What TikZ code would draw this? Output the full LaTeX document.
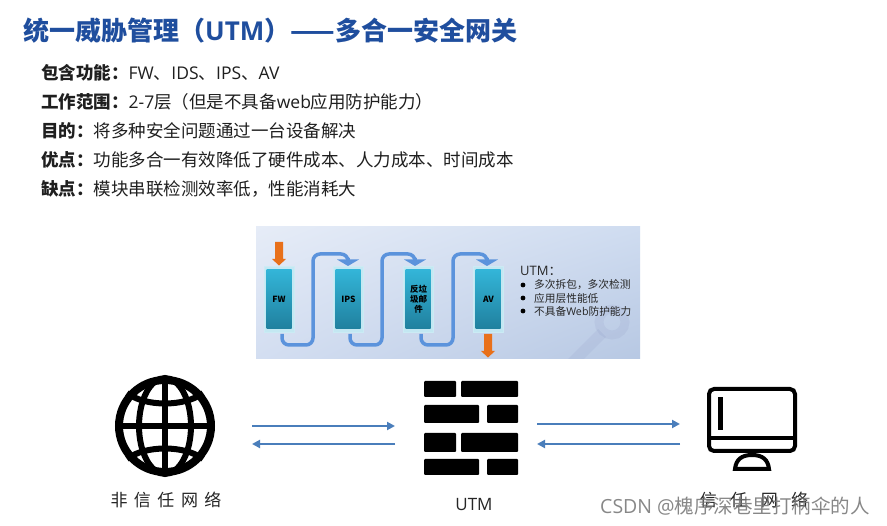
\documentclass[tikz,border=0pt]{standalone}
\usepackage{fontspec}
\setmainfont{Noto Sans CJK SC}
\newfontfamily\latf{Open Sans}
\newcommand{\lt}[1]{{\latf #1}}
\newcommand{\fwco}{\symbol{"FF1A}}
\newcommand{\fwlp}{\symbol{"FF08}}
\newcommand{\fwrp}{\symbol{"FF09}}
\newcommand{\fwcm}{\symbol{"FF0C}}
\usetikzlibrary{arrows.meta,calc,shadings}
\definecolor{titleblue}{HTML}{1F4E9E}
\definecolor{arrowblue}{HTML}{4A7EBB}
\definecolor{pipeblue}{HTML}{5B93DC}
\definecolor{arroworange}{HTML}{E8701A}
\definecolor{modtop}{HTML}{33B5D8}
\definecolor{modbot}{HTML}{20809E}
\tikzset{
  titletext/.style={anchor=west,inner sep=0pt,font=\bfseries\fontsize{26}{26}\selectfont,text=titleblue},
  bodytext/.style={anchor=west,inner sep=0pt,font=\fontsize{17.5}{18}\selectfont,text=black!88},
  modframe/.style={draw=white!75!modtop,line width=1pt,fill=white!70!modtop,opacity=.9},
  modcore/.style={top color=modtop,bottom color=modbot,draw=none},
  modlabel/.style={inner sep=0pt,align=center,font=\bfseries\fontsize{8.5}{10}\selectfont,text=black},
  pipe/.style={draw=pipeblue,line width=3.5pt,rounded corners=7pt},
  pipetip/.style={fill=pipeblue,draw=none},
  orangeshaft/.style={fill=arroworange,draw=none},
  flow/.style={draw=arrowblue,line width=2pt,-{Triangle[length=8pt,width=8pt]}},
  brick/.style={fill=black,draw=none,rounded corners=1pt},
  icon/.style={draw=black,fill=none},
  caption/.style={inner sep=0pt,font=\fontsize{17}{18}\selectfont,text=black!85},
  utmtext/.style={anchor=west,inner sep=0pt,font=\fontsize{10.7}{12}\selectfont,text=black!85},
  wm/.style={inner sep=0pt,anchor=west,font=\fontsize{19.5}{20}\selectfont,text=black!55,opacity=.85},
  keymark/.style={draw=black!60!blue,opacity=.04},
}
\begin{document}
\begin{tikzpicture}[x=1pt,y=-1pt]
\useasboundingbox (0,0) rectangle (887,526);
\fill[white] (0,0) rectangle (887,526);
% title and body
\node[titletext] (title) at (23,31) {统一威胁管理\fwlp\lt{UTM}\fwrp——多合一安全网关};
\node[bodytext] (l1) at (41,73) {\textbf{包含功能\fwco}\lt{FW}、\lt{IDS}、\lt{IPS}、\lt{AV}};
\node[bodytext] (l2) at (41,102) {\textbf{工作范围\fwco}\lt{2-7}层\fwlp 但是不具备\lt{web}应用防护能力\fwrp};
\node[bodytext] (l3) at (41,131) {\textbf{目的\fwco}将多种安全问题通过一台设备解决};
\node[bodytext] (l4) at (41,160) {\textbf{优点\fwco}功能多合一有效降低了硬件成本、人力成本、时间成本};
\node[bodytext] (l5) at (41,189) {\textbf{缺点\fwco}模块串联检测效率低\fwcm 性能消耗大};
% picture panel
\definecolor{pul}{HTML}{E6ECF7}\definecolor{pur}{HTML}{CFDCF0}
\definecolor{pll}{HTML}{D3DEF1}\definecolor{plr}{HTML}{B7C8E3}
\shade[upper left=pul,upper right=pur,lower left=pll,lower right=plr] (256,227) rectangle (640,359);
\begin{scope}
  \clip (256,227) rectangle (640,359);
  \draw[keymark,line width=9pt] (612,322) circle (13);
  \draw[keymark,line width=11pt] (602,333) -- (570,365);
\end{scope}
\foreach \x in {264,333,403,473}{
  \fill[modframe] (\x,267) rectangle ++(30,66);
  \shade[modcore] (\x+2.5,270) rectangle ++(25,59);
}
\node[modlabel] (fw) at (279,299) {FW};
\node[modlabel] (ips) at (348.5,299) {IPS};
\node[modlabel] (spam) at (418.5,299) {反垃\\圾邮\\件};
\node[modlabel] (av) at (488.5,299) {AV};
\foreach \a/\b/\c in {282/313/348,350/382/415,421/453/487}{
  \draw[pipe] (\a,334) -- (\a,345) -- (\b,345) -- (\b,254) -- (\c,254) -- (\c,258);
  \fill[pipetip] (\c-11,259.5) -- (\c+11,259.5) -- (\c,266) -- cycle;
}
\fill[orangeshaft] (275,242) rectangle (283,259) (272,259) -- (286,259) -- (279,265.5) -- cycle;
\fill[orangeshaft] (484,334) rectangle (492,351) (481,351) -- (495,351) -- (488,357.5) -- cycle;
\node[utmtext,font=\fontsize{13}{13}\selectfont] (utmh) at (520,271) {\lt{UTM}\fwco};
\foreach \y in {285,298,311}{
  \fill[black] (523,\y) circle (2.4);
}
\node[utmtext] (u1) at (534,285) {多次拆包\fwcm 多次检测};
\node[utmtext] (u2) at (534,298.5) {应用层性能低};
\node[utmtext] (u3) at (534,311) {不具备\lt{Web}防护能力};
% globe
\coordinate (g) at (165,426);
\begin{scope}[shift={(g)}]
  \draw[icon,line width=8pt] (0,0) circle (46);
  \draw[icon,line width=6pt] (0,0) ellipse (26 and 48);
  \draw[icon,line width=6pt] (0,-48) -- (0,48) (-48,0) -- (48,0);
  \draw[icon,line width=6pt] (-38,-33) .. controls (-20,-19) and (20,-19) .. (38,-33);
  \draw[icon,line width=6pt] (-38,33) .. controls (-20,19) and (20,19) .. (38,33);
\end{scope}
\node[caption] (gcap) at (166,500) {非\hspace{6.5pt}信\hspace{6.5pt}任\hspace{6.5pt}网\hspace{6.5pt}络};
% firewall
\fill[brick] (424,381) rectangle (456,397) (461,381) rectangle (518,397);
\fill[brick] (424,405) rectangle (479,423) (487,405) rectangle (518,423);
\fill[brick] (424,433) rectangle (456,452) (461,433) rectangle (518,452);
\fill[brick] (424,459) rectangle (479,475) (487,459) rectangle (518,475);
\node[caption] (ucap) at (474,505) {\lt{UTM}};
% monitor
\draw[icon,line width=4pt,rounded corners=5pt] (709,389) rectangle (795,451);
\draw[icon,line width=4pt] (709,438) -- (795,438);
\fill[black] (717.5,397) rectangle (723,430);
\draw[icon,line width=4pt] (735,469) .. controls (736,460) and (741,455) .. (752,455) .. controls (763,455) and (768,460) .. (769,469) -- cycle;
\node[caption] (mcap) at (754,500) {信\hspace{13.5pt}任\hspace{13.5pt}网\hspace{13.5pt}络};
% connectors
\coordinate (a1) at (252,426); \coordinate (a2) at (395,426);
\coordinate (a3) at (395,444); \coordinate (a4) at (252,444);
\coordinate (b1) at (537,424); \coordinate (b2) at (680,424);
\coordinate (b3) at (680,444); \coordinate (b4) at (537,444);
\draw[flow] (a1) -- (a2);
\draw[flow] (a3) -- (a4);
\draw[flow] (b1) -- (b2);
\draw[flow] (b3) -- (b4);
% watermark
\node[wm] (mark) at (600,506) {\lt{CSDN @}槐序深巷里打柄伞的人};
\end{tikzpicture}
\end{document}
